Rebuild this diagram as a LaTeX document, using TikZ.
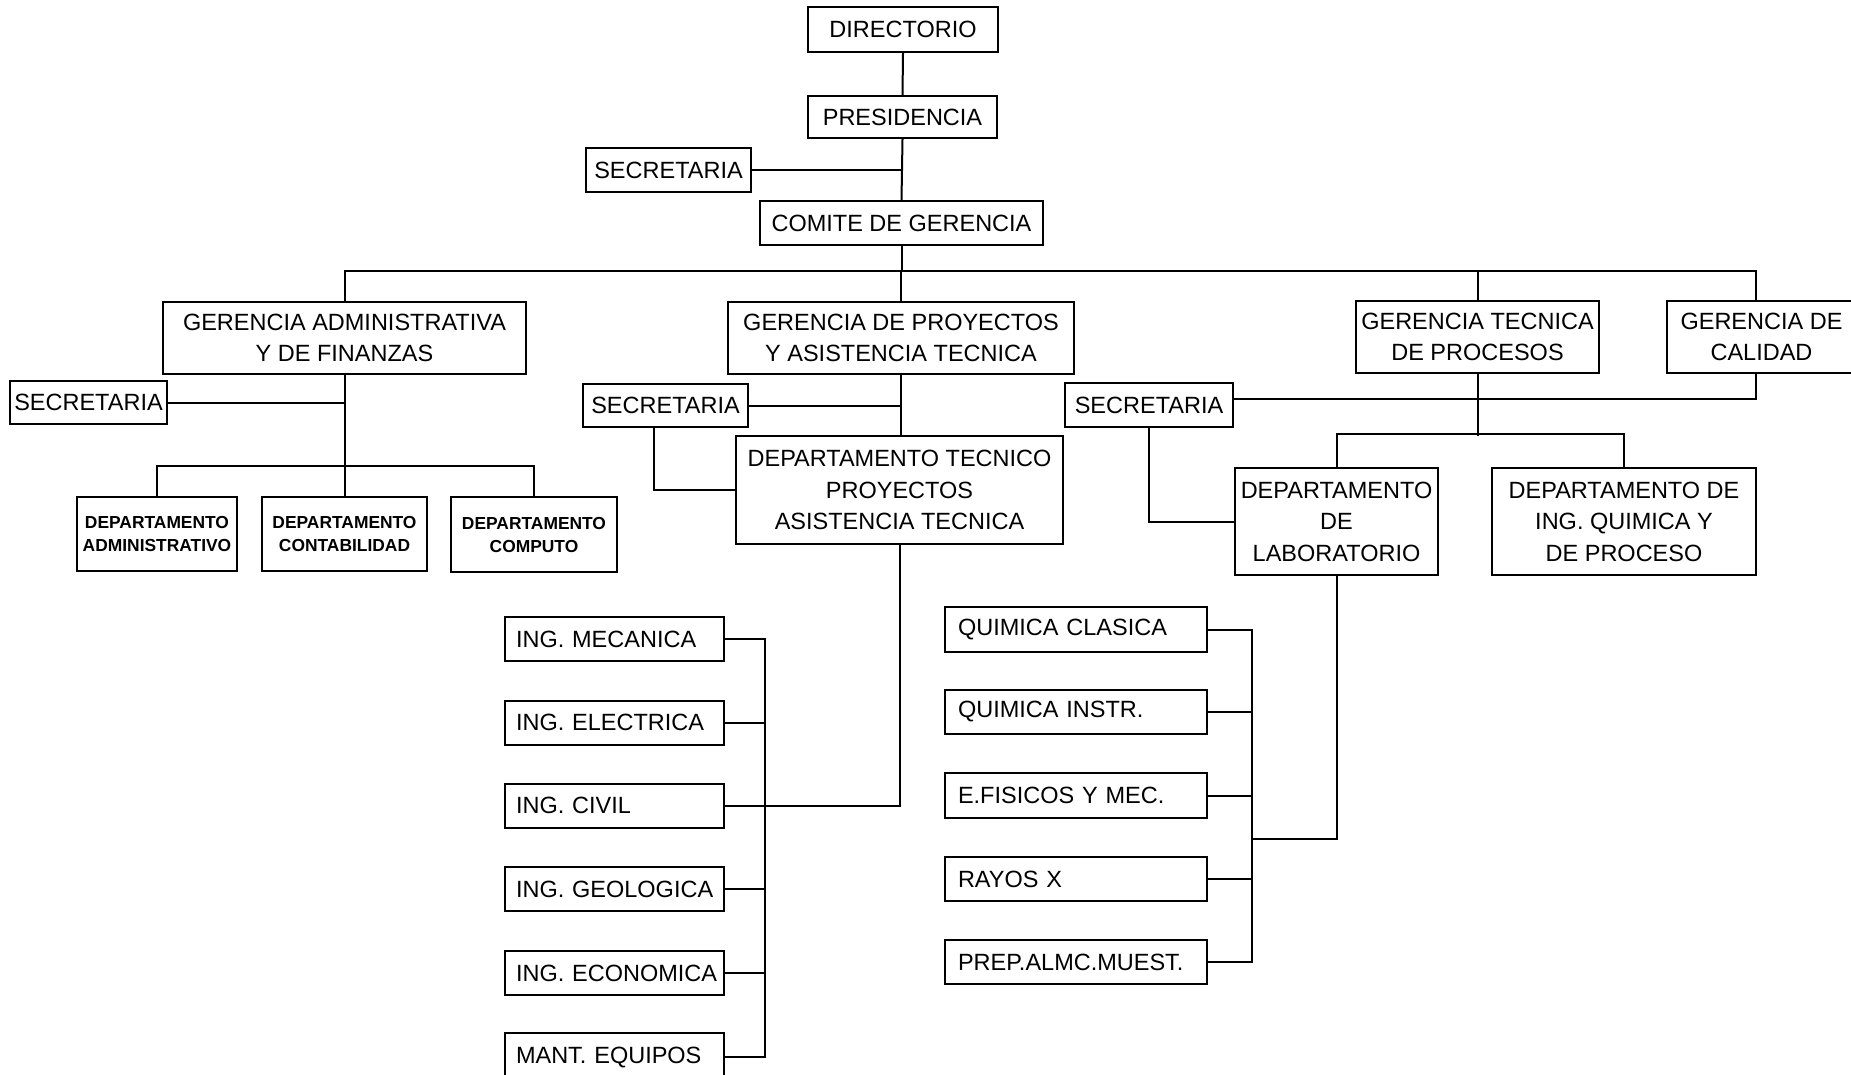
\documentclass[tikz,border=0pt]{standalone}
\usepackage{fontspec}
\setmainfont{Liberation Sans}
\newcommand\fbig{\fontsize{23.5}{31.5}\selectfont}
\newcommand\fsmall{\fontsize{17.4}{23}\selectfont\bfseries}
\begin{document}
\begin{tikzpicture}[x=1pt,y=-1pt,
  box/.style={draw, line width=2pt, inner sep=0pt, align=center, font=\fbig},
  sbox/.style={draw, line width=2pt, inner sep=0pt, align=center, font=\fsmall},
  ilst/.style={draw, line width=2pt, inner ysep=0pt, inner xsep=11pt, text width=197pt, align=left, font=\fbig, minimum height=44pt},
  qlst/.style={draw, line width=2pt, inner ysep=0pt, inner xsep=13pt, text width=236pt, align=left, font=\fbig, minimum height=44pt},
  con/.style={line width=2pt}]
\useasboundingbox (0,0) rectangle (1851,1074);
\fill[white] (0,0) rectangle (1851,1074);

% top chain
\node[box, minimum width=190pt, minimum height=45pt] (dir) at (903,29.5) {DIRECTORIO};
\node[box, minimum width=189pt, minimum height=42pt] (pres) at (902.5,117) {PRESIDENCIA};
\node[box, minimum width=165pt, minimum height=44pt] (sec1) at (668.5,170) {SECRETARIA};
\node[box, minimum width=283pt, minimum height=44pt] (comite) at (901.5,223) {COMITE DE GERENCIA};

% gerencias
\node[box, minimum width=363pt, minimum height=72pt] (gadm) at (344.5,338) {GERENCIA ADMINISTRATIVA\\Y DE FINANZAS};
\node[box, minimum width=346pt, minimum height=72pt] (gproy) at (901,338) {GERENCIA DE PROYECTOS\\Y ASISTENCIA TECNICA};
\node[box, minimum width=243pt, minimum height=72pt] (gtec) at (1477.5,337) {GERENCIA TECNICA\\DE PROCESOS};
\node[box, minimum width=189pt, minimum height=72pt] (gcal) at (1761.5,337) {GERENCIA DE\\CALIDAD};

% secretarias
\node[box, minimum width=157pt, minimum height=43pt] (sec2) at (88.5,402.5) {SECRETARIA};
\node[box, minimum width=165pt, minimum height=43pt] (sec3) at (665.5,405.5) {SECRETARIA};
\node[box, minimum width=168pt, minimum height=44pt] (sec4) at (1149,405) {SECRETARIA};

% admin departments
\node[sbox, minimum width=160pt, minimum height=74pt] (dadm) at (157,534) {DEPARTAMENTO\\ADMINISTRATIVO};
\node[sbox, minimum width=165pt, minimum height=74pt] (dcon) at (344.5,534) {DEPARTAMENTO\\CONTABILIDAD};
\node[sbox, minimum width=166pt, minimum height=75pt] (dcomp) at (534,534.5) {DEPARTAMENTO\\COMPUTO};

% technical departments
\node[box, minimum width=327pt, minimum height=108pt] (dtec) at (899.5,490) {DEPARTAMENTO TECNICO\\PROYECTOS\\ASISTENCIA TECNICA};
\node[box, minimum width=203pt, minimum height=107pt] (dlab) at (1336.5,521.5) {DEPARTAMENTO\\DE\\LABORATORIO};
\node[box, minimum width=264pt, minimum height=107pt] (dquim) at (1624,521.5) {DEPARTAMENTO DE\\ING. QUIMICA Y\\DE PROCESO};

% engineering list
\node[ilst] (mec) at (614.5,639) {\mbox{ING. MECANICA}};
\node[ilst] (elec) at (614.5,722.5) {\mbox{ING. ELECTRICA}};
\node[ilst] (civil) at (614.5,805.5) {\mbox{ING. CIVIL}};
\node[ilst] (geo) at (614.5,889) {\mbox{ING. GEOLOGICA}};
\node[ilst] (econ) at (614.5,973) {\mbox{ING. ECONOMICA}};
\node[ilst, minimum height=48pt] (mant) at (614.5,1057) {\mbox{MANT. EQUIPOS}};

% laboratory list
\node[qlst, minimum height=45pt] (qc) at (1076,629.5) {\mbox{QUIMICA CLASICA}};
\node[qlst] (qi) at (1076,712) {\mbox{QUIMICA INSTR.}};
\node[qlst, minimum height=45pt] (ef) at (1076,795.5) {\mbox{E.FISICOS Y MEC.}};
\node[qlst] (rx) at (1076,879) {\mbox{RAYOS X}};
\node[qlst] (prep) at (1076,962) {\mbox{PREP.ALMC.MUEST.}};

% helper coordinates
\coordinate (bar) at (0,271);
\coordinate (ibus) at (765,0);
\coordinate (qbus) at (1252,0);
\coordinate (calx) at (1756,0);

% top connectors
\draw[con] (dir.south) -- (pres.north);
\draw[con] (pres.south) -- (comite.north);
\draw[con] (sec1.east) -- (sec1.east -| pres.south);
\draw[con] (comite.south) -- (comite.south |- bar);
\draw[con] (gadm.north) -- (gadm.north |- bar) -- (calx |- bar) -- (calx |- gcal.north);
\draw[con] (gproy.north) -- (gproy.north |- bar);
\draw[con] (gtec.north) -- (gtec.north |- bar);

% administrative branch
\draw[con] (gadm.south) -- (dcon.north);
\draw[con] (sec2.east) -- (sec2.east -| gadm.south);
\draw[con] (dadm.north) -- ++(0,-30) -| (dcomp.north);

% projects branch
\draw[con] (gproy.south) -- (gproy.south |- dtec.north);
\draw[con] (sec3.east) -- (sec3.east -| gproy.south);
\draw[con] ([xshift=-12pt]sec3.south) |- (dtec.west);
\draw[con] (dtec.south) |- (civil.east);
\draw[con] (mec.east) -- (mec.east -| ibus) -- (mant.east -| ibus) -- (mant.east);
\draw[con] (elec.east) -- (elec.east -| ibus);
\draw[con] (geo.east) -- (geo.east -| ibus);
\draw[con] (econ.east) -- (econ.east -| ibus);

% technical processes branch
\draw[con] (gtec.south) -- ++(0,62);
\draw[con] (dlab.north) -- ++(0,-33) -| (dquim.north);
\draw[con] ([yshift=6pt]sec4.east) -| (calx |- gcal.south);
\draw[con] (sec4.south) |- (dlab.west);
\draw[con] (dlab.south) |- (qbus |- 0,839);
\draw[con] (qc.east) -- (qc.east -| qbus) -- (prep.east -| qbus) -- (prep.east);
\draw[con] (qi.east) -- (qi.east -| qbus);
\draw[con] (ef.east) -- (ef.east -| qbus);
\draw[con] (rx.east) -- (rx.east -| qbus);
\end{tikzpicture}
\end{document}
